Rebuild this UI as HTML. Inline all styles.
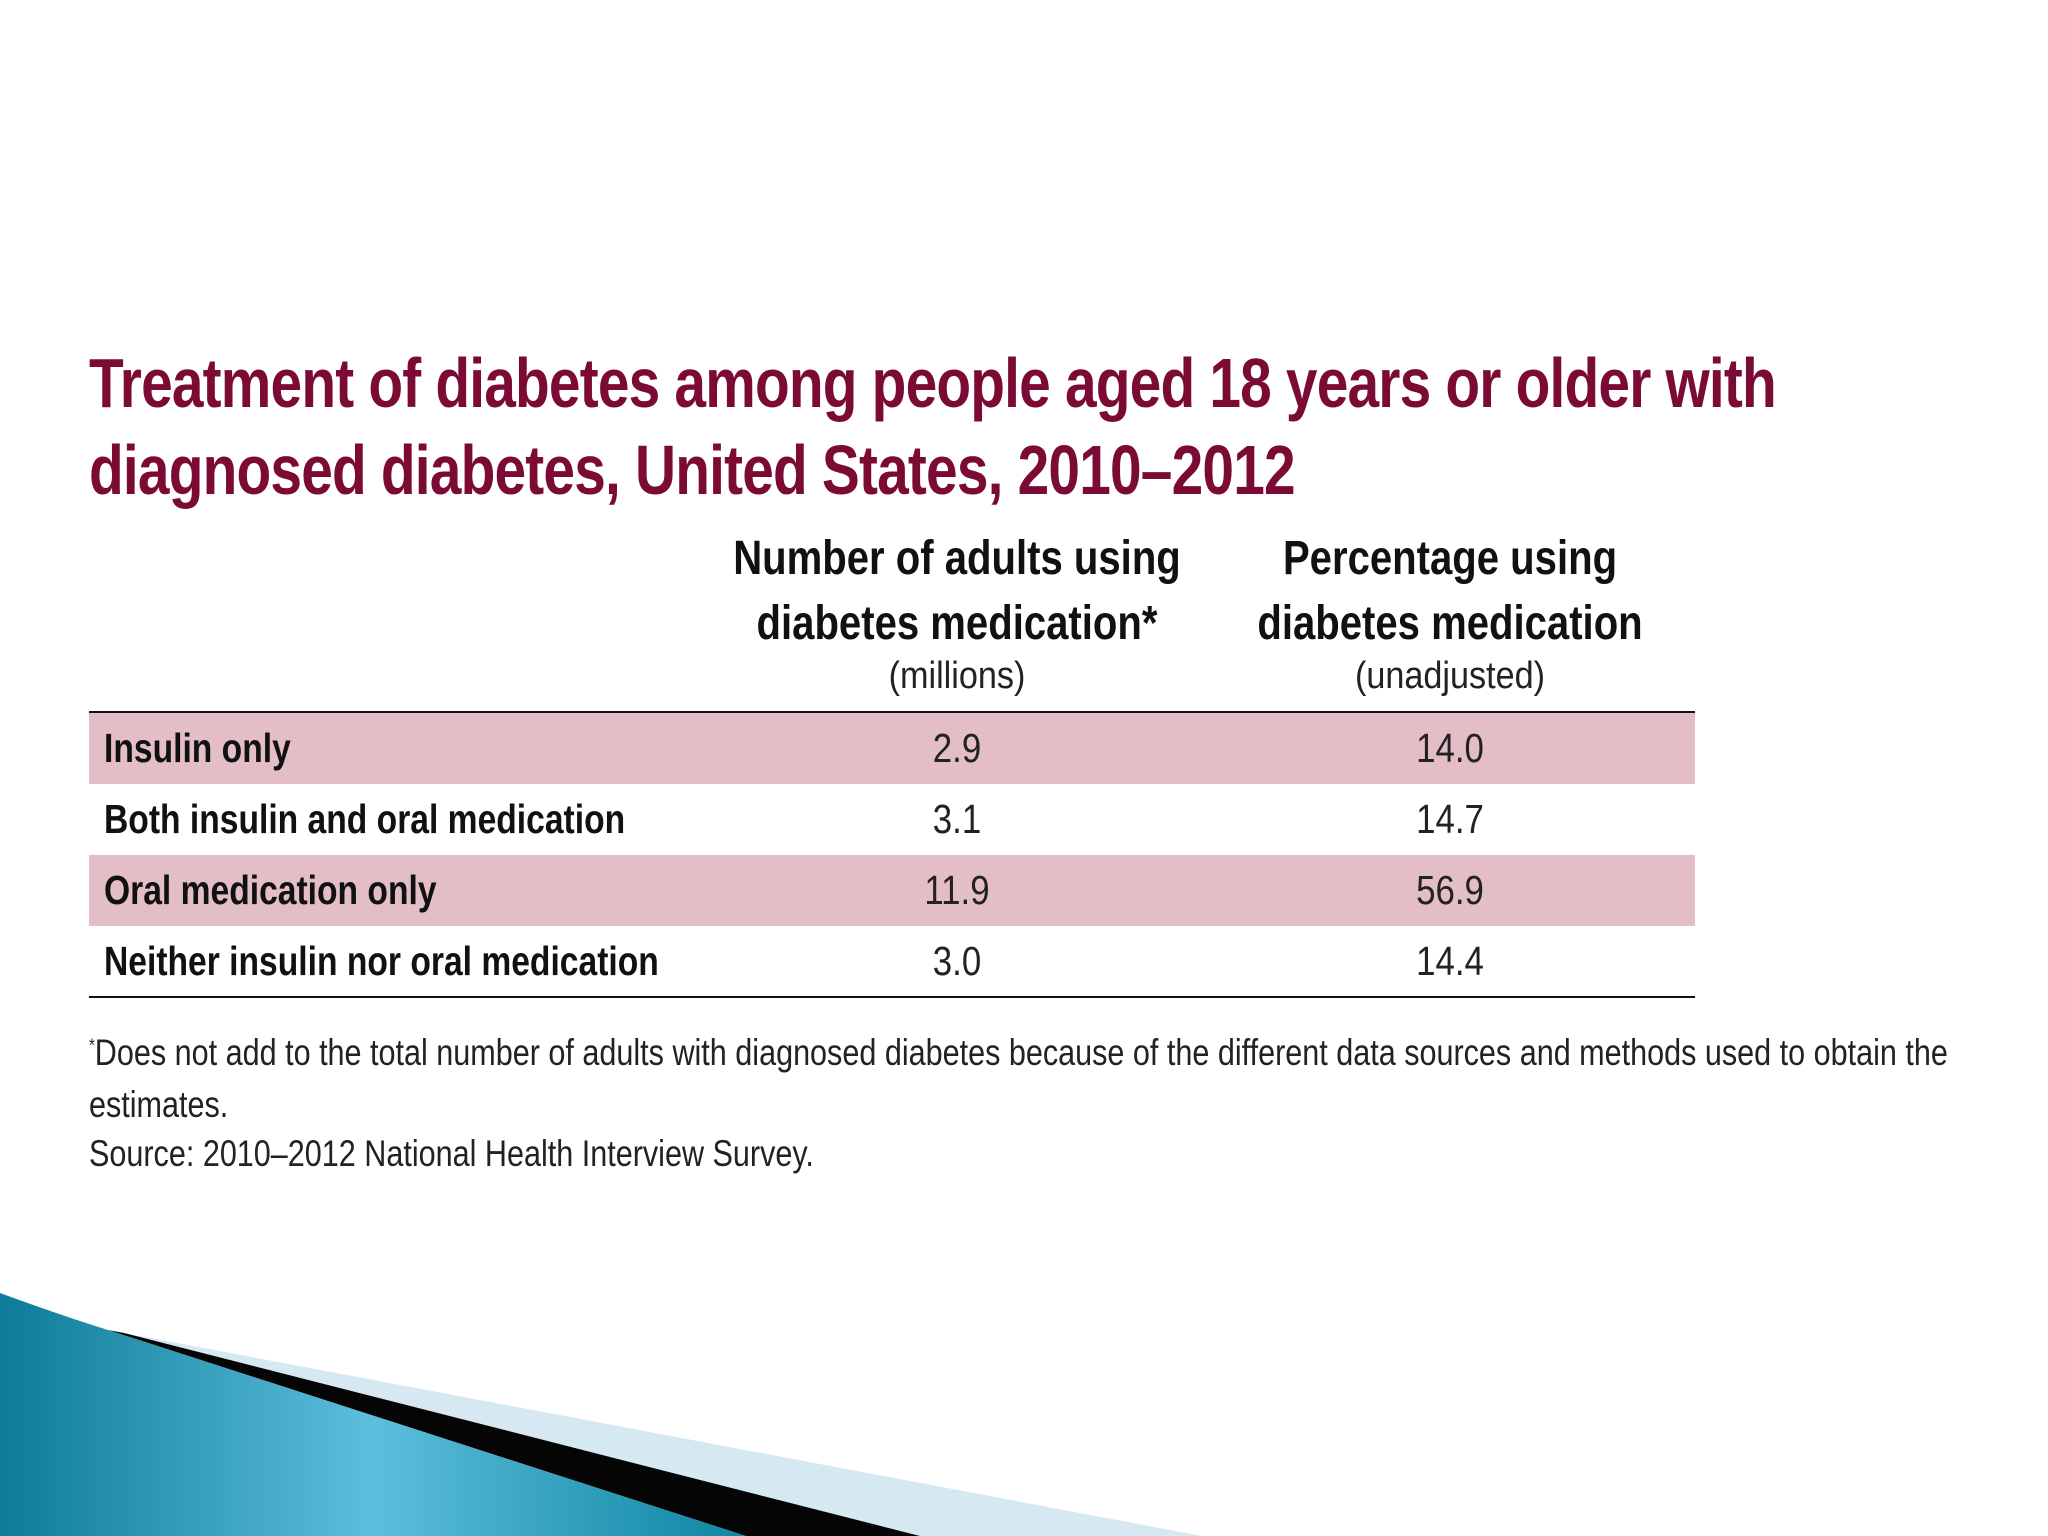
<!DOCTYPE html>
<html><head><meta charset="utf-8">
<style>
body{margin:0;width:2048px;height:1536px;background:#fff;position:relative;overflow:hidden;font-family:"Liberation Sans",sans-serif;}
.t{position:absolute;white-space:nowrap;}
.title{color:#7b0a35;font-weight:bold;font-size:70px;left:89px;letter-spacing:-1px;transform:scaleX(0.812);transform-origin:0 0;}
.hdr{font-weight:bold;font-size:48px;color:#111;text-align:center;width:600px;transform:scaleX(0.835);transform-origin:50% 0;}
.sub{font-size:38px;color:#222;text-align:center;width:600px;transform:scaleX(0.9);transform-origin:50% 0;}
.row{position:absolute;left:89px;width:1606px;height:71px;}
.lab{position:absolute;left:15px;top:12px;font-weight:bold;font-size:41px;color:#111;white-space:nowrap;transform:scaleX(0.82);transform-origin:0 0;}
.v{position:absolute;top:12px;font-size:41px;color:#222;width:600px;text-align:center;transform:scaleX(0.85);transform-origin:50% 0;}
.foot{font-size:37px;color:#222;left:89px;transform:scaleX(0.826);transform-origin:0 0;}
</style></head><body>
<svg style="position:absolute;left:0;top:0" width="2048" height="1536">
<defs><linearGradient id="g" x1="0" y1="0" x2="1" y2="0"><stop offset="0" stop-color="#0d7c98"/><stop offset="0.5" stop-color="#5cbedc"/><stop offset="1" stop-color="#0e86a3"/></linearGradient></defs>
<polygon points="124,1333 1202,1536 920,1536" fill="#d6e8f1"/>
<polygon points="108,1330 124,1333 920,1536 746,1536" fill="#050505"/>
<path d="M0,1293 Q60,1315 108,1330 L746,1536 L0,1536 Z" fill="url(#g)"/>
</svg>
<div class="t title" style="top:343px">Treatment of diabetes among people aged 18 years or older with</div>
<div class="t title" style="top:430px">diagnosed diabetes, United States, 2010–2012</div>
<div class="t hdr" style="left:657px;top:526px;line-height:65px">Number of adults using<br>diabetes medication*</div>
<div class="t sub" style="left:657px;top:655px">(millions)</div>
<div class="t hdr" style="left:1150px;top:526px;line-height:65px">Percentage using<br>diabetes medication</div>
<div class="t sub" style="left:1150px;top:655px">(unadjusted)</div>
<div style="position:absolute;left:89px;top:711px;width:1606px;height:2px;background:#111"></div>
<div id="rows"></div>
<div style="position:absolute;left:89px;top:996px;width:1606px;height:2px;background:#111"></div>
<div class="t foot" style="top:1032px"><sup style="font-size:18px">*</sup>Does not add to the total number of adults with diagnosed diabetes because of the different data sources and methods used to obtain the</div>
<div class="t foot" style="top:1084px">estimates.</div>
<div class="t foot" style="top:1133px">Source: 2010–2012 National Health Interview Survey.</div>
<script>
const categories=["Insulin only","Both insulin and oral medication","Oral medication only","Neither insulin nor oral medication"];
const millions=["2.9","3.1","11.9","3.0"];
const percents=["14.0","14.7","56.9","14.4"];
const host=document.getElementById('rows');
categories.forEach((c,i)=>{
 const r=document.createElement('div');
 r.className='row';
 
 
 r.style.top=(713+i*71)+'px';
 r.style.background=i%2===0?'#e3bec6':'#fff';
 const l=document.createElement('div');l.className='lab';l.textContent=c;
 
 
 const a=document.createElement('div');a.className='v';a.style.left='568px';a.textContent=millions[i];
 
 
 const b=document.createElement('div');b.className='v';b.style.left='1061px';b.textContent=percents[i];
 
 
 r.appendChild(l);r.appendChild(a);r.appendChild(b);host.appendChild(r);
});
</script>
</body></html>
